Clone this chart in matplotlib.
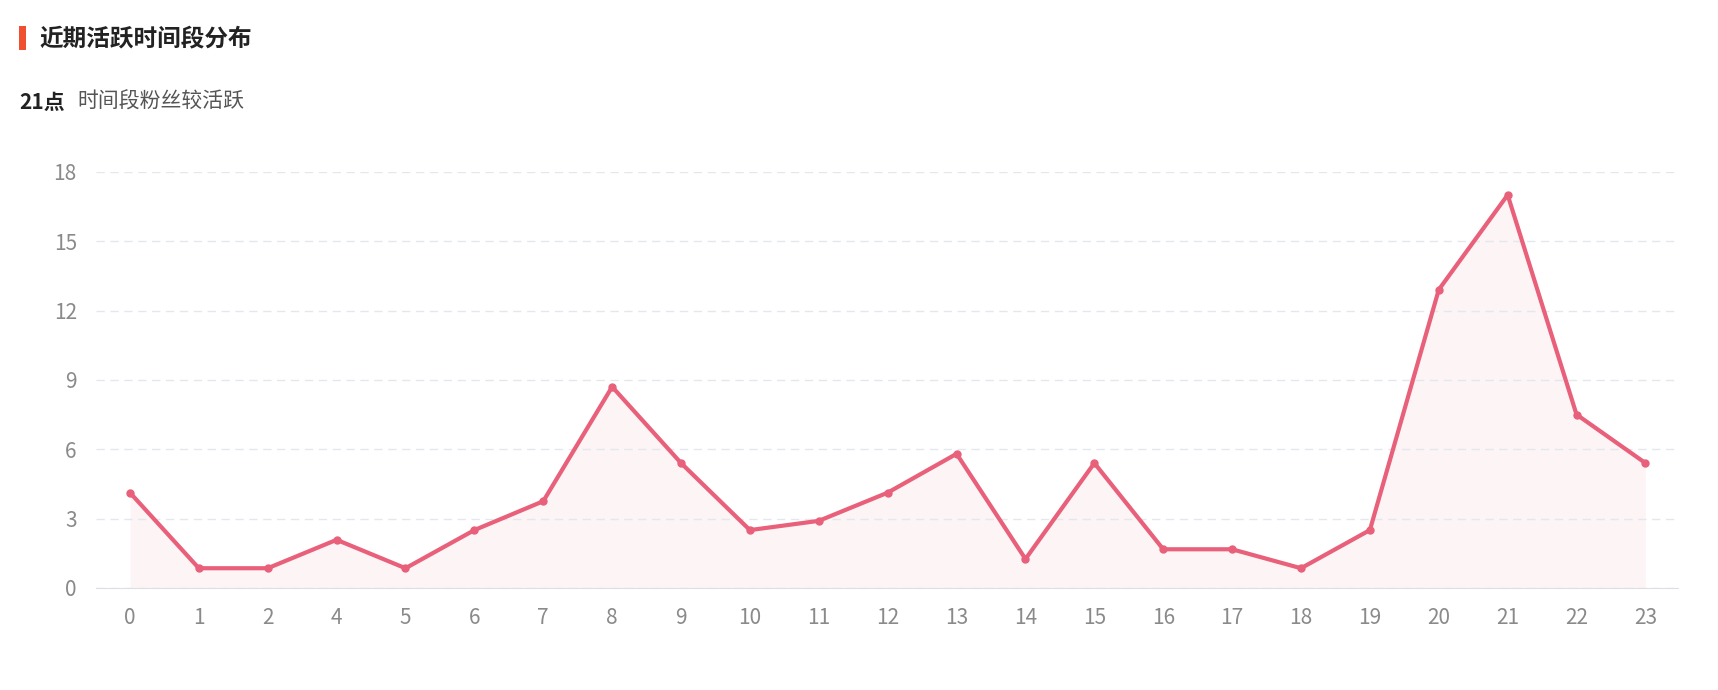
import matplotlib
matplotlib.use('Agg')
import matplotlib.pyplot as plt
import numpy as np

plt.rcParams['font.family'] = ['Noto Sans CJK SC', 'DejaVu Sans']

hours = ['0', '1', '2', '4', '5', '6', '7', '8', '9', '10', '11', '12', '13',
         '14', '15', '16', '17', '18', '19', '20', '21', '22', '23']
values = [4.12, 0.85, 0.85, 2.08, 0.85, 2.5, 3.75, 8.7, 5.4, 2.5, 2.9, 4.12, 5.8,
          1.25, 5.4, 1.67, 1.67, 0.85, 2.5, 12.9, 17.0, 7.5, 5.4]
yticks = [0, 3, 6, 9, 12, 15, 18]

line_color = '#e8607a'
fig = plt.figure(figsize=(17.18, 6.9), dpi=100)
ax = fig.add_axes([0.056, 0.148, 0.921, 0.603])

x = np.arange(len(hours))
ax.fill_between(x, values, 0, color='#fdeef1', alpha=0.6, lw=0)
ax.plot(x, values, color=line_color, lw=3, marker='o', ms=5, zorder=3)

ax.set_xlim(-0.49, 22.48)
ax.set_ylim(0, 18)
ax.set_xticks(x)
ax.set_xticklabels(hours)
ax.set_yticks(yticks)
ax.tick_params(axis='both', length=0, labelsize=15, labelcolor='#8a8a8a', pad=14)
ax.grid(axis='y', color='#e4e7ec', ls=(0, (6, 4)), lw=1)
for s in ['top', 'right', 'left']:
    ax.spines[s].set_visible(False)
ax.spines['bottom'].set_color('#dcdfe4')

# header
fig.patches.append(plt.Rectangle((0.011, 0.928), 0.004, 0.035, transform=fig.transFigure,
                                 color='#f0502f', lw=0))
fig.text(0.023, 0.945, '近期活跃时间段分布', fontsize=17, fontweight='bold', color='#222222', va='center')
fig.text(0.011, 0.852, '21点', fontsize=15, fontweight='bold', color='#222222', va='center')
fig.text(0.045, 0.852, '时间段粉丝较活跃', fontsize=15, color='#555555', va='center')

fig.savefig('out.png')
